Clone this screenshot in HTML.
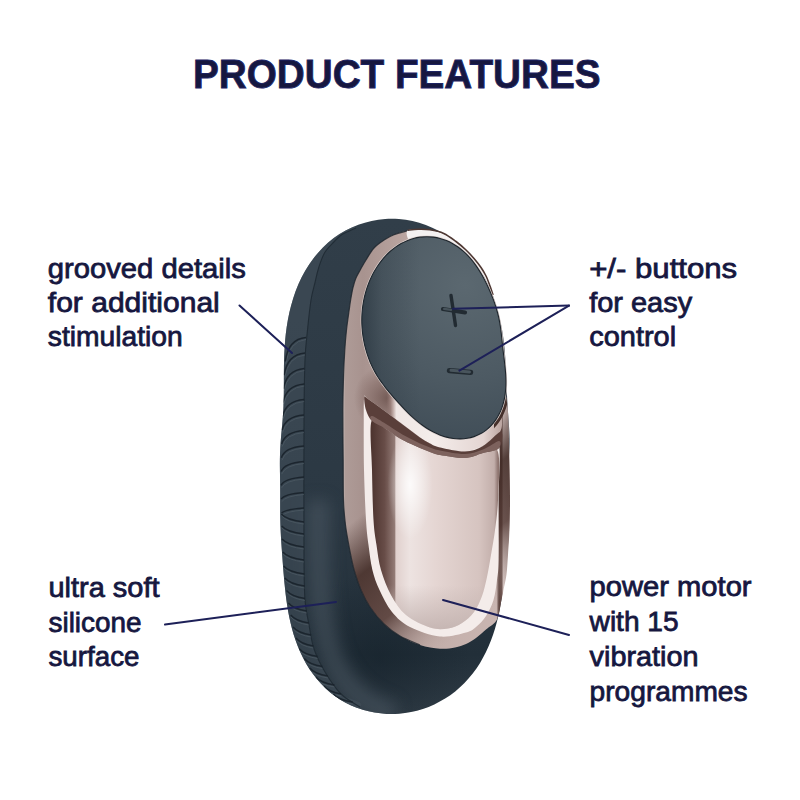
<!DOCTYPE html>
<html><head><meta charset="utf-8"><style>
html,body{margin:0;padding:0;background:#ffffff;width:800px;height:800px;overflow:hidden}
svg text{font-family:"Liberation Sans",sans-serif;fill:#16173f}
</style></head><body>
<svg width="800" height="800" viewBox="0 0 800 800" style="position:absolute;left:0;top:0">
<defs>
 <clipPath id="cBody"><path d="M280.09,481.17 C280.06,479.09 280.02,477.02 280.00,474.93 C279.97,472.85 279.93,470.76 279.91,468.66 C279.89,466.56 279.87,464.45 279.88,462.32 C279.89,460.19 279.91,458.05 279.97,455.89 C280.02,453.73 280.10,451.55 280.20,449.36 C280.31,447.17 280.44,444.96 280.60,442.73 C280.76,440.50 280.95,438.25 281.15,435.97 C281.34,433.68 281.57,431.38 281.79,429.03 C282.01,426.67 282.24,424.29 282.45,421.83 C282.66,419.37 282.87,416.88 283.04,414.28 C283.22,411.67 283.37,409.02 283.49,406.22 C283.62,403.43 283.70,400.55 283.77,397.52 C283.83,394.48 283.85,391.34 283.87,388.02 C283.89,384.70 283.87,381.24 283.88,377.61 C283.90,373.97 283.89,370.18 283.95,366.22 C284.02,362.27 284.09,358.13 284.28,353.87 C284.48,349.61 284.71,345.18 285.12,340.66 C285.53,336.14 286.02,331.47 286.73,326.78 C287.43,322.08 288.28,317.26 289.36,312.49 C290.44,307.72 291.71,302.87 293.23,298.14 C294.75,293.41 296.49,288.67 298.49,284.10 C300.49,279.54 302.73,275.03 305.21,270.75 C307.70,266.47 310.44,262.31 313.40,258.43 C316.36,254.55 319.57,250.86 322.96,247.46 C326.36,244.07 329.99,240.92 333.76,238.08 C337.54,235.25 341.52,232.69 345.61,230.46 C349.70,228.24 353.96,226.31 358.28,224.72 C362.60,223.13 367.06,221.85 371.54,220.91 C376.02,219.96 380.60,219.34 385.16,219.04 C389.72,218.74 394.34,218.77 398.90,219.12 C403.46,219.46 408.04,220.13 412.53,221.11 C417.01,222.09 421.48,223.39 425.82,224.99 C430.16,226.59 434.45,228.51 438.57,230.70 C442.69,232.90 446.71,235.41 450.55,238.18 C454.38,240.94 458.08,244.01 461.56,247.30 C465.05,250.58 468.36,254.15 471.44,257.90 C474.52,261.65 477.40,265.65 480.04,269.78 C482.68,273.90 485.10,278.25 487.28,282.65 C489.46,287.06 491.41,291.64 493.14,296.21 C494.87,300.79 496.36,305.48 497.66,310.10 C498.97,314.73 500.04,319.42 500.97,323.99 C501.90,328.56 502.62,333.12 503.25,337.54 C503.87,341.96 504.32,346.31 504.71,350.49 C505.11,354.68 505.37,358.75 505.61,362.65 C505.85,366.56 506.00,370.31 506.15,373.91 C506.31,377.51 506.42,380.94 506.55,384.24 C506.68,387.53 506.79,390.66 506.93,393.68 C507.07,396.70 507.21,399.57 507.37,402.36 C507.53,405.14 507.71,407.79 507.89,410.39 C508.06,412.98 508.26,415.48 508.43,417.93 C508.61,420.38 508.79,422.75 508.94,425.10 C509.09,427.44 509.23,429.73 509.33,432.00 C509.43,434.26 509.51,436.49 509.54,438.69 C509.57,440.90 509.57,443.07 509.53,445.22 C509.49,447.37 509.41,449.49 509.31,451.58 C509.21,453.68 509.07,455.74 508.92,457.78 C508.78,459.82 508.61,461.83 508.46,463.81 C508.31,465.80 508.15,467.76 508.02,469.70 C507.88,471.64 507.76,473.55 507.68,475.47 C507.59,477.38 507.53,479.27 507.51,481.17 C507.49,483.07 507.51,484.95 507.56,486.86 C507.60,488.77 507.69,490.68 507.79,492.61 C507.89,494.55 508.03,496.49 508.16,498.47 C508.29,500.45 508.45,502.45 508.59,504.48 C508.72,506.51 508.86,508.57 508.97,510.66 C509.07,512.75 509.16,514.86 509.21,517.01 C509.26,519.15 509.28,521.33 509.26,523.53 C509.23,525.73 509.17,527.96 509.07,530.22 C508.97,532.48 508.82,534.76 508.65,537.09 C508.48,539.42 508.27,541.77 508.04,544.18 C507.81,546.59 507.55,549.03 507.28,551.55 C507.02,554.07 506.73,556.64 506.43,559.30 C506.14,561.95 505.84,564.67 505.52,567.50 C505.20,570.33 504.88,573.25 504.52,576.27 C504.17,579.30 503.81,582.43 503.40,585.67 C502.98,588.90 502.55,592.26 502.03,595.70 C501.51,599.15 500.95,602.72 500.27,606.35 C499.60,609.99 498.85,613.74 497.96,617.51 C497.06,621.28 496.07,625.15 494.90,629.00 C493.74,632.85 492.44,636.76 490.95,640.61 C489.47,644.46 487.82,648.32 485.98,652.08 C484.14,655.83 482.12,659.56 479.91,663.13 C477.71,666.70 475.31,670.20 472.73,673.51 C470.16,676.83 467.40,680.02 464.48,683.00 C461.56,685.98 458.46,688.81 455.23,691.40 C452.00,694.00 448.61,696.41 445.11,698.58 C441.62,700.76 437.98,702.72 434.26,704.45 C430.55,706.18 426.72,707.68 422.84,708.95 C418.96,710.21 414.99,711.24 411.00,712.04 C407.01,712.83 402.95,713.38 398.90,713.69 C394.85,714.00 390.76,714.07 386.70,713.89 C382.65,713.70 378.58,713.28 374.57,712.60 C370.57,711.92 366.58,710.99 362.69,709.80 C358.79,708.62 354.94,707.18 351.22,705.49 C347.49,703.81 343.84,701.86 340.35,699.68 C336.85,697.51 333.46,695.07 330.25,692.43 C327.05,689.79 323.97,686.91 321.10,683.85 C318.22,680.80 315.51,677.51 313.00,674.10 C310.49,670.70 308.16,667.09 306.04,663.41 C303.91,659.74 301.99,655.90 300.24,652.04 C298.50,648.19 296.96,644.22 295.57,640.27 C294.19,636.33 293.00,632.33 291.93,628.39 C290.87,624.45 289.98,620.50 289.19,616.65 C288.39,612.80 287.74,608.98 287.16,605.27 C286.57,601.55 286.11,597.91 285.68,594.39 C285.25,590.86 284.90,587.43 284.57,584.11 C284.24,580.78 283.97,577.57 283.70,574.45 C283.44,571.33 283.20,568.32 282.97,565.39 C282.74,562.46 282.53,559.63 282.33,556.87 C282.12,554.11 281.93,551.43 281.74,548.81 C281.56,546.18 281.38,543.63 281.23,541.12 C281.07,538.61 280.92,536.16 280.80,533.75 C280.68,531.33 280.57,528.96 280.48,526.62 C280.40,524.28 280.33,521.98 280.28,519.71 C280.23,517.43 280.20,515.19 280.18,512.98 C280.16,510.76 280.16,508.57 280.16,506.41 C280.16,504.24 280.17,502.10 280.17,499.97 C280.17,497.84 280.18,495.74 280.18,493.64 C280.18,491.55 280.17,489.47 280.15,487.39 C280.14,485.31 280.12,483.24 280.09,481.17Z"/></clipPath>
 <clipPath id="cInterior"><path d="M407.00,231.00 C402.67,231.38 397.75,233.29 394.00,234.75 C390.25,236.21 387.83,237.54 384.50,239.75 C381.17,241.96 377.08,244.62 374.00,248.00 C370.92,251.38 368.25,256.42 366.00,260.00 C363.75,263.58 362.17,266.50 360.50,269.50 C358.83,272.50 357.25,275.00 356.00,278.00 C354.75,281.00 353.87,284.00 353.00,287.50 C352.13,291.00 351.43,295.33 350.80,299.00 C350.18,302.67 349.97,304.33 349.25,309.50 C348.53,314.67 347.24,323.25 346.50,330.00 C345.76,336.75 345.28,342.50 344.80,350.00 C344.32,357.50 343.92,365.00 343.60,375.00 C343.28,385.00 342.97,395.83 342.90,410.00 C342.83,424.17 343.10,445.00 343.20,460.00 C343.30,475.00 343.12,489.17 343.50,500.00 C343.88,510.83 344.46,516.67 345.50,525.00 C346.54,533.33 348.33,542.58 349.75,550.00 C351.17,557.42 352.12,562.83 354.00,569.50 C355.88,576.17 358.33,583.75 361.00,590.00 C363.67,596.25 366.17,601.33 370.00,607.00 C373.83,612.67 379.00,619.17 384.00,624.00 C389.00,628.83 394.00,632.50 400.00,636.00 C406.00,639.50 413.33,642.88 420.00,645.00 C426.67,647.12 434.17,648.33 440.00,648.75 C445.83,649.17 450.67,648.29 455.00,647.50 C459.33,646.71 462.50,645.58 466.00,644.00 C469.50,642.42 472.67,640.42 476.00,638.00 C479.33,635.58 482.50,632.58 486.00,629.50 C489.50,626.42 494.42,624.42 497.00,619.50 C499.58,614.58 500.42,604.92 501.50,600.00 C502.58,595.08 502.67,594.25 503.50,590.00 C504.33,585.75 505.75,580.33 506.50,574.50 C507.25,568.67 507.50,562.42 508.00,555.00 C508.50,547.58 509.17,539.17 509.50,530.00 C509.83,520.83 510.00,511.67 510.00,500.00 C510.00,488.33 509.80,474.25 509.50,460.00 C509.20,445.75 508.78,425.17 508.20,414.50 C507.62,403.83 506.87,402.08 506.00,396.00 C505.13,389.92 503.33,384.33 503.00,378.00 C502.67,371.67 504.08,364.00 504.00,358.00 C503.92,352.00 503.33,346.75 502.50,342.00 C501.67,337.25 500.25,334.83 499.00,329.50 C497.75,324.17 496.67,315.92 495.00,310.00 C493.33,304.08 490.67,298.50 489.00,294.00 C487.33,289.50 486.50,286.33 485.00,283.00 C483.50,279.67 482.17,277.33 480.00,274.00 C477.83,270.67 474.83,266.33 472.00,263.00 C469.17,259.67 467.17,257.50 463.00,254.00 C458.83,250.50 452.17,245.00 447.00,242.00 C441.83,239.00 436.50,237.58 432.00,236.00 C427.50,234.42 424.17,233.33 420.00,232.50 C415.83,231.67 411.33,230.62 407.00,231.00Z"/></clipPath>
 <filter id="fBlur" x="-50%" y="-50%" width="200%" height="200%"><feGaussianBlur stdDeviation="8"/></filter>
 <clipPath id="cRB"><rect x="494" y="362" width="20" height="80"/></clipPath>
 <clipPath id="cFace"><path d="M363.42,338.75 C363.15,337.22 362.91,335.67 362.71,334.11 C362.51,332.55 362.34,330.96 362.20,329.36 C362.06,327.76 361.96,326.15 361.89,324.51 C361.83,322.87 361.79,321.22 361.81,319.55 C361.82,317.88 361.87,316.18 361.96,314.48 C362.06,312.77 362.20,311.05 362.38,309.31 C362.57,307.57 362.80,305.81 363.08,304.04 C363.36,302.27 363.69,300.49 364.08,298.69 C364.46,296.90 364.90,295.09 365.40,293.27 C365.89,291.46 366.44,289.63 367.06,287.80 C367.67,285.97 368.34,284.13 369.08,282.29 C369.82,280.46 370.62,278.62 371.50,276.79 C372.38,274.97 373.32,273.14 374.34,271.34 C375.36,269.54 376.45,267.74 377.62,265.98 C378.79,264.23 380.04,262.48 381.37,260.80 C382.70,259.11 384.11,257.45 385.60,255.87 C387.09,254.28 388.67,252.73 390.32,251.28 C391.97,249.83 393.71,248.43 395.51,247.14 C397.31,245.86 399.20,244.65 401.14,243.57 C403.09,242.48 405.11,241.50 407.17,240.65 C409.23,239.80 411.36,239.07 413.51,238.48 C415.66,237.90 417.87,237.44 420.08,237.14 C422.29,236.84 424.53,236.68 426.76,236.68 C428.99,236.67 431.24,236.82 433.45,237.11 C435.66,237.40 437.87,237.85 440.03,238.42 C442.18,239.00 444.32,239.73 446.38,240.57 C448.44,241.41 450.46,242.40 452.40,243.47 C454.34,244.55 456.23,245.76 458.03,247.03 C459.83,248.31 461.55,249.69 463.20,251.12 C464.84,252.55 466.40,254.08 467.88,255.62 C469.37,257.17 470.76,258.78 472.09,260.40 C473.41,262.02 474.66,263.68 475.83,265.34 C477.01,266.99 478.11,268.67 479.16,270.34 C480.21,272.00 481.19,273.67 482.12,275.32 C483.05,276.97 483.92,278.62 484.76,280.24 C485.60,281.86 486.39,283.47 487.14,285.06 C487.90,286.64 488.61,288.21 489.30,289.77 C489.99,291.32 490.64,292.86 491.27,294.38 C491.89,295.91 492.49,297.41 493.06,298.92 C493.63,300.42 494.17,301.91 494.68,303.39 C495.20,304.88 495.68,306.36 496.14,307.83 C496.59,309.31 497.02,310.78 497.41,312.25 C497.81,313.72 498.18,315.19 498.51,316.66 C498.85,318.13 499.15,319.60 499.43,321.07 C499.71,322.53 499.96,324.00 500.19,325.47 C500.42,326.94 500.63,328.41 500.82,329.88 C501.01,331.35 501.18,332.82 501.35,334.29 C501.52,335.77 501.67,337.25 501.83,338.75 C501.99,340.24 502.14,341.74 502.30,343.26 C502.46,344.78 502.63,346.31 502.80,347.88 C502.98,349.44 503.16,351.02 503.36,352.65 C503.55,354.28 503.76,355.93 503.97,357.64 C504.17,359.35 504.39,361.09 504.60,362.90 C504.80,364.70 505.02,366.55 505.20,368.46 C505.38,370.37 505.56,372.34 505.68,374.36 C505.80,376.38 505.90,378.46 505.92,380.59 C505.95,382.71 505.93,384.89 505.81,387.09 C505.69,389.30 505.51,391.55 505.21,393.81 C504.90,396.06 504.52,398.35 503.99,400.60 C503.46,402.86 502.83,405.13 502.05,407.34 C501.27,409.54 500.36,411.74 499.31,413.84 C498.25,415.93 497.06,417.99 495.73,419.91 C494.41,421.84 492.93,423.69 491.34,425.38 C489.75,427.08 488.01,428.66 486.18,430.07 C484.35,431.49 482.39,432.76 480.35,433.85 C478.32,434.94 476.17,435.87 473.99,436.61 C471.80,437.35 469.53,437.91 467.24,438.29 C464.96,438.67 462.61,438.87 460.29,438.90 C457.96,438.93 455.61,438.78 453.29,438.48 C450.98,438.18 448.66,437.71 446.40,437.12 C444.15,436.53 441.92,435.77 439.76,434.94 C437.60,434.10 435.49,433.12 433.45,432.09 C431.42,431.05 429.45,429.90 427.55,428.72 C425.66,427.54 423.84,426.28 422.10,425.01 C420.35,423.73 418.68,422.40 417.08,421.08 C415.47,419.75 413.94,418.39 412.47,417.05 C411.00,415.71 409.59,414.36 408.24,413.03 C406.88,411.70 405.58,410.38 404.32,409.08 C403.06,407.77 401.85,406.49 400.67,405.22 C399.49,403.95 398.35,402.70 397.24,401.47 C396.13,400.23 395.05,399.02 393.99,397.81 C392.93,396.60 391.90,395.41 390.88,394.22 C389.87,393.03 388.88,391.85 387.92,390.67 C386.95,389.49 386.00,388.31 385.08,387.12 C384.16,385.93 383.25,384.74 382.38,383.54 C381.50,382.33 380.65,381.12 379.82,379.90 C378.99,378.67 378.19,377.44 377.42,376.19 C376.64,374.94 375.90,373.67 375.18,372.39 C374.46,371.11 373.77,369.81 373.11,368.50 C372.45,367.19 371.82,365.86 371.22,364.52 C370.62,363.18 370.04,361.83 369.50,360.45 C368.95,359.08 368.44,357.70 367.95,356.30 C367.46,354.90 367.00,353.48 366.57,352.05 C366.13,350.62 365.73,349.17 365.35,347.71 C364.97,346.25 364.62,344.77 364.30,343.28 C363.98,341.78 363.68,340.27 363.42,338.75Z"/></clipPath>
 <linearGradient id="gBody" gradientUnits="userSpaceOnUse" x1="0" y1="220" x2="0" y2="714">
  <stop offset="0" stop-color="#313e49"/>
  <stop offset="0.3" stop-color="#2e3b46"/>
  <stop offset="0.6" stop-color="#2b3843"/>
  <stop offset="0.88" stop-color="#222f39"/>
  <stop offset="1" stop-color="#303c46"/>
 </linearGradient>
 <radialGradient id="gBodyBot" gradientUnits="userSpaceOnUse" cx="380" cy="660" r="90">
  <stop offset="0" stop-color="#101c25" stop-opacity="0.45"/>
  <stop offset="1" stop-color="#101c25" stop-opacity="0"/>
 </radialGradient>
 <linearGradient id="gChrome" gradientUnits="userSpaceOnUse" x1="343" y1="0" x2="508" y2="0">
  <stop offset="0" stop-color="#c2b5b2"/>
  <stop offset="0.015" stop-color="#ae9b97"/>
  <stop offset="0.12" stop-color="#a8938f"/>
  <stop offset="0.5" stop-color="#c3aea9"/>
  <stop offset="0.93" stop-color="#c9b5b1"/>
  <stop offset="0.945" stop-color="#5e4540"/>
  <stop offset="0.962" stop-color="#6a514c"/>
  <stop offset="0.972" stop-color="#d9c9c6"/>
  <stop offset="1" stop-color="#c2b0ac"/>
 </linearGradient>
 <linearGradient id="gChromeV" gradientUnits="userSpaceOnUse" x1="343" y1="530" x2="440" y2="650">
  <stop offset="0" stop-color="#3e2823" stop-opacity="0"/>
  <stop offset="0.3" stop-color="#3e2823" stop-opacity="0.85"/>
  <stop offset="0.62" stop-color="#4e3530" stop-opacity="0.8"/>
  <stop offset="1" stop-color="#b5a29e" stop-opacity="0"/>
 </linearGradient>
 <linearGradient id="gInsert" gradientUnits="userSpaceOnUse" x1="372" y1="0" x2="498" y2="0">
  <stop offset="0" stop-color="#4e3530"/>
  <stop offset="0.1" stop-color="#684d48"/>
  <stop offset="0.18" stop-color="#937b76"/>
  <stop offset="0.19" stop-color="#e0d0cd"/>
  <stop offset="0.3" stop-color="#ede3e1"/>
  <stop offset="0.5" stop-color="#e5d6d3"/>
  <stop offset="0.85" stop-color="#d6c4c0"/>
  <stop offset="0.97" stop-color="#c2aeaa"/>
  <stop offset="1" stop-color="#8e7570"/>
 </linearGradient>
 <linearGradient id="gInsertV" gradientUnits="userSpaceOnUse" x1="0" y1="585" x2="0" y2="628">
  <stop offset="0" stop-color="#c4b4b1" stop-opacity="0"/>
  <stop offset="1" stop-color="#c4b4b1" stop-opacity="0.9"/>
 </linearGradient>
 <linearGradient id="gBrown" gradientUnits="userSpaceOnUse" x1="0" y1="415" x2="8" y2="430" spreadMethod="pad">
  <stop offset="0" stop-color="#4e342f"/>
  <stop offset="1" stop-color="#7e635e"/>
 </linearGradient>
 <linearGradient id="gUnder" gradientUnits="userSpaceOnUse" x1="362" y1="0" x2="505" y2="0">
  <stop offset="0.17" stop-color="#8c726d" stop-opacity="0"/>
  <stop offset="0.2" stop-color="#9a807b"/>
  <stop offset="0.22" stop-color="#c4b0ac"/>
  <stop offset="0.24" stop-color="#efe6e4"/>
  <stop offset="0.5" stop-color="#f4edeb"/>
  <stop offset="0.85" stop-color="#e4d5d2"/>
  <stop offset="1" stop-color="#b39c97"/>
 </linearGradient>
 <radialGradient id="gRefl" gradientUnits="userSpaceOnUse" cx="388" cy="398" r="34">
  <stop offset="0" stop-color="#5e443f" stop-opacity="0.75"/>
  <stop offset="0.6" stop-color="#6a4f4a" stop-opacity="0.35"/>
  <stop offset="1" stop-color="#6a4f4a" stop-opacity="0"/>
 </radialGradient>
 <radialGradient id="gHi" gradientUnits="userSpaceOnUse" cx="410" cy="485" r="45" gradientTransform="translate(410 485) scale(0.5 1.2) translate(-410 -485)">
  <stop offset="0" stop-color="#ffffff" stop-opacity="0.85"/>
  <stop offset="1" stop-color="#ffffff" stop-opacity="0"/>
 </radialGradient>
 <radialGradient id="gFace" gradientUnits="userSpaceOnUse" cx="465" cy="285" r="210">
  <stop offset="0" stop-color="#5b6870"/>
  <stop offset="0.45" stop-color="#4d5a63"/>
  <stop offset="0.8" stop-color="#3f4c56"/>
  <stop offset="1" stop-color="#34414b"/>
 </radialGradient>
 <linearGradient id="gFaceL" gradientUnits="userSpaceOnUse" x1="361" y1="0" x2="420" y2="0">
  <stop offset="0" stop-color="#1f2b35" stop-opacity="0.55"/>
  <stop offset="0.35" stop-color="#1f2b35" stop-opacity="0.2"/>
  <stop offset="1" stop-color="#1f2b35" stop-opacity="0"/>
 </linearGradient>
</defs>
<path d="M280.09,481.17 C280.06,479.09 280.02,477.02 280.00,474.93 C279.97,472.85 279.93,470.76 279.91,468.66 C279.89,466.56 279.87,464.45 279.88,462.32 C279.89,460.19 279.91,458.05 279.97,455.89 C280.02,453.73 280.10,451.55 280.20,449.36 C280.31,447.17 280.44,444.96 280.60,442.73 C280.76,440.50 280.95,438.25 281.15,435.97 C281.34,433.68 281.57,431.38 281.79,429.03 C282.01,426.67 282.24,424.29 282.45,421.83 C282.66,419.37 282.87,416.88 283.04,414.28 C283.22,411.67 283.37,409.02 283.49,406.22 C283.62,403.43 283.70,400.55 283.77,397.52 C283.83,394.48 283.85,391.34 283.87,388.02 C283.89,384.70 283.87,381.24 283.88,377.61 C283.90,373.97 283.89,370.18 283.95,366.22 C284.02,362.27 284.09,358.13 284.28,353.87 C284.48,349.61 284.71,345.18 285.12,340.66 C285.53,336.14 286.02,331.47 286.73,326.78 C287.43,322.08 288.28,317.26 289.36,312.49 C290.44,307.72 291.71,302.87 293.23,298.14 C294.75,293.41 296.49,288.67 298.49,284.10 C300.49,279.54 302.73,275.03 305.21,270.75 C307.70,266.47 310.44,262.31 313.40,258.43 C316.36,254.55 319.57,250.86 322.96,247.46 C326.36,244.07 329.99,240.92 333.76,238.08 C337.54,235.25 341.52,232.69 345.61,230.46 C349.70,228.24 353.96,226.31 358.28,224.72 C362.60,223.13 367.06,221.85 371.54,220.91 C376.02,219.96 380.60,219.34 385.16,219.04 C389.72,218.74 394.34,218.77 398.90,219.12 C403.46,219.46 408.04,220.13 412.53,221.11 C417.01,222.09 421.48,223.39 425.82,224.99 C430.16,226.59 434.45,228.51 438.57,230.70 C442.69,232.90 446.71,235.41 450.55,238.18 C454.38,240.94 458.08,244.01 461.56,247.30 C465.05,250.58 468.36,254.15 471.44,257.90 C474.52,261.65 477.40,265.65 480.04,269.78 C482.68,273.90 485.10,278.25 487.28,282.65 C489.46,287.06 491.41,291.64 493.14,296.21 C494.87,300.79 496.36,305.48 497.66,310.10 C498.97,314.73 500.04,319.42 500.97,323.99 C501.90,328.56 502.62,333.12 503.25,337.54 C503.87,341.96 504.32,346.31 504.71,350.49 C505.11,354.68 505.37,358.75 505.61,362.65 C505.85,366.56 506.00,370.31 506.15,373.91 C506.31,377.51 506.42,380.94 506.55,384.24 C506.68,387.53 506.79,390.66 506.93,393.68 C507.07,396.70 507.21,399.57 507.37,402.36 C507.53,405.14 507.71,407.79 507.89,410.39 C508.06,412.98 508.26,415.48 508.43,417.93 C508.61,420.38 508.79,422.75 508.94,425.10 C509.09,427.44 509.23,429.73 509.33,432.00 C509.43,434.26 509.51,436.49 509.54,438.69 C509.57,440.90 509.57,443.07 509.53,445.22 C509.49,447.37 509.41,449.49 509.31,451.58 C509.21,453.68 509.07,455.74 508.92,457.78 C508.78,459.82 508.61,461.83 508.46,463.81 C508.31,465.80 508.15,467.76 508.02,469.70 C507.88,471.64 507.76,473.55 507.68,475.47 C507.59,477.38 507.53,479.27 507.51,481.17 C507.49,483.07 507.51,484.95 507.56,486.86 C507.60,488.77 507.69,490.68 507.79,492.61 C507.89,494.55 508.03,496.49 508.16,498.47 C508.29,500.45 508.45,502.45 508.59,504.48 C508.72,506.51 508.86,508.57 508.97,510.66 C509.07,512.75 509.16,514.86 509.21,517.01 C509.26,519.15 509.28,521.33 509.26,523.53 C509.23,525.73 509.17,527.96 509.07,530.22 C508.97,532.48 508.82,534.76 508.65,537.09 C508.48,539.42 508.27,541.77 508.04,544.18 C507.81,546.59 507.55,549.03 507.28,551.55 C507.02,554.07 506.73,556.64 506.43,559.30 C506.14,561.95 505.84,564.67 505.52,567.50 C505.20,570.33 504.88,573.25 504.52,576.27 C504.17,579.30 503.81,582.43 503.40,585.67 C502.98,588.90 502.55,592.26 502.03,595.70 C501.51,599.15 500.95,602.72 500.27,606.35 C499.60,609.99 498.85,613.74 497.96,617.51 C497.06,621.28 496.07,625.15 494.90,629.00 C493.74,632.85 492.44,636.76 490.95,640.61 C489.47,644.46 487.82,648.32 485.98,652.08 C484.14,655.83 482.12,659.56 479.91,663.13 C477.71,666.70 475.31,670.20 472.73,673.51 C470.16,676.83 467.40,680.02 464.48,683.00 C461.56,685.98 458.46,688.81 455.23,691.40 C452.00,694.00 448.61,696.41 445.11,698.58 C441.62,700.76 437.98,702.72 434.26,704.45 C430.55,706.18 426.72,707.68 422.84,708.95 C418.96,710.21 414.99,711.24 411.00,712.04 C407.01,712.83 402.95,713.38 398.90,713.69 C394.85,714.00 390.76,714.07 386.70,713.89 C382.65,713.70 378.58,713.28 374.57,712.60 C370.57,711.92 366.58,710.99 362.69,709.80 C358.79,708.62 354.94,707.18 351.22,705.49 C347.49,703.81 343.84,701.86 340.35,699.68 C336.85,697.51 333.46,695.07 330.25,692.43 C327.05,689.79 323.97,686.91 321.10,683.85 C318.22,680.80 315.51,677.51 313.00,674.10 C310.49,670.70 308.16,667.09 306.04,663.41 C303.91,659.74 301.99,655.90 300.24,652.04 C298.50,648.19 296.96,644.22 295.57,640.27 C294.19,636.33 293.00,632.33 291.93,628.39 C290.87,624.45 289.98,620.50 289.19,616.65 C288.39,612.80 287.74,608.98 287.16,605.27 C286.57,601.55 286.11,597.91 285.68,594.39 C285.25,590.86 284.90,587.43 284.57,584.11 C284.24,580.78 283.97,577.57 283.70,574.45 C283.44,571.33 283.20,568.32 282.97,565.39 C282.74,562.46 282.53,559.63 282.33,556.87 C282.12,554.11 281.93,551.43 281.74,548.81 C281.56,546.18 281.38,543.63 281.23,541.12 C281.07,538.61 280.92,536.16 280.80,533.75 C280.68,531.33 280.57,528.96 280.48,526.62 C280.40,524.28 280.33,521.98 280.28,519.71 C280.23,517.43 280.20,515.19 280.18,512.98 C280.16,510.76 280.16,508.57 280.16,506.41 C280.16,504.24 280.17,502.10 280.17,499.97 C280.17,497.84 280.18,495.74 280.18,493.64 C280.18,491.55 280.17,489.47 280.15,487.39 C280.14,485.31 280.12,483.24 280.09,481.17Z" fill="url(#gBody)"/>
<path d="M280.09,481.17 C280.06,479.09 280.02,477.02 280.00,474.93 C279.97,472.85 279.93,470.76 279.91,468.66 C279.89,466.56 279.87,464.45 279.88,462.32 C279.89,460.19 279.91,458.05 279.97,455.89 C280.02,453.73 280.10,451.55 280.20,449.36 C280.31,447.17 280.44,444.96 280.60,442.73 C280.76,440.50 280.95,438.25 281.15,435.97 C281.34,433.68 281.57,431.38 281.79,429.03 C282.01,426.67 282.24,424.29 282.45,421.83 C282.66,419.37 282.87,416.88 283.04,414.28 C283.22,411.67 283.37,409.02 283.49,406.22 C283.62,403.43 283.70,400.55 283.77,397.52 C283.83,394.48 283.85,391.34 283.87,388.02 C283.89,384.70 283.87,381.24 283.88,377.61 C283.90,373.97 283.89,370.18 283.95,366.22 C284.02,362.27 284.09,358.13 284.28,353.87 C284.48,349.61 284.71,345.18 285.12,340.66 C285.53,336.14 286.02,331.47 286.73,326.78 C287.43,322.08 288.28,317.26 289.36,312.49 C290.44,307.72 291.71,302.87 293.23,298.14 C294.75,293.41 296.49,288.67 298.49,284.10 C300.49,279.54 302.73,275.03 305.21,270.75 C307.70,266.47 310.44,262.31 313.40,258.43 C316.36,254.55 319.57,250.86 322.96,247.46 C326.36,244.07 329.99,240.92 333.76,238.08 C337.54,235.25 341.52,232.69 345.61,230.46 C349.70,228.24 353.96,226.31 358.28,224.72 C362.60,223.13 367.06,221.85 371.54,220.91 C376.02,219.96 380.60,219.34 385.16,219.04 C389.72,218.74 394.34,218.77 398.90,219.12 C403.46,219.46 408.04,220.13 412.53,221.11 C417.01,222.09 421.48,223.39 425.82,224.99 C430.16,226.59 434.45,228.51 438.57,230.70 C442.69,232.90 446.71,235.41 450.55,238.18 C454.38,240.94 458.08,244.01 461.56,247.30 C465.05,250.58 468.36,254.15 471.44,257.90 C474.52,261.65 477.40,265.65 480.04,269.78 C482.68,273.90 485.10,278.25 487.28,282.65 C489.46,287.06 491.41,291.64 493.14,296.21 C494.87,300.79 496.36,305.48 497.66,310.10 C498.97,314.73 500.04,319.42 500.97,323.99 C501.90,328.56 502.62,333.12 503.25,337.54 C503.87,341.96 504.32,346.31 504.71,350.49 C505.11,354.68 505.37,358.75 505.61,362.65 C505.85,366.56 506.00,370.31 506.15,373.91 C506.31,377.51 506.42,380.94 506.55,384.24 C506.68,387.53 506.79,390.66 506.93,393.68 C507.07,396.70 507.21,399.57 507.37,402.36 C507.53,405.14 507.71,407.79 507.89,410.39 C508.06,412.98 508.26,415.48 508.43,417.93 C508.61,420.38 508.79,422.75 508.94,425.10 C509.09,427.44 509.23,429.73 509.33,432.00 C509.43,434.26 509.51,436.49 509.54,438.69 C509.57,440.90 509.57,443.07 509.53,445.22 C509.49,447.37 509.41,449.49 509.31,451.58 C509.21,453.68 509.07,455.74 508.92,457.78 C508.78,459.82 508.61,461.83 508.46,463.81 C508.31,465.80 508.15,467.76 508.02,469.70 C507.88,471.64 507.76,473.55 507.68,475.47 C507.59,477.38 507.53,479.27 507.51,481.17 C507.49,483.07 507.51,484.95 507.56,486.86 C507.60,488.77 507.69,490.68 507.79,492.61 C507.89,494.55 508.03,496.49 508.16,498.47 C508.29,500.45 508.45,502.45 508.59,504.48 C508.72,506.51 508.86,508.57 508.97,510.66 C509.07,512.75 509.16,514.86 509.21,517.01 C509.26,519.15 509.28,521.33 509.26,523.53 C509.23,525.73 509.17,527.96 509.07,530.22 C508.97,532.48 508.82,534.76 508.65,537.09 C508.48,539.42 508.27,541.77 508.04,544.18 C507.81,546.59 507.55,549.03 507.28,551.55 C507.02,554.07 506.73,556.64 506.43,559.30 C506.14,561.95 505.84,564.67 505.52,567.50 C505.20,570.33 504.88,573.25 504.52,576.27 C504.17,579.30 503.81,582.43 503.40,585.67 C502.98,588.90 502.55,592.26 502.03,595.70 C501.51,599.15 500.95,602.72 500.27,606.35 C499.60,609.99 498.85,613.74 497.96,617.51 C497.06,621.28 496.07,625.15 494.90,629.00 C493.74,632.85 492.44,636.76 490.95,640.61 C489.47,644.46 487.82,648.32 485.98,652.08 C484.14,655.83 482.12,659.56 479.91,663.13 C477.71,666.70 475.31,670.20 472.73,673.51 C470.16,676.83 467.40,680.02 464.48,683.00 C461.56,685.98 458.46,688.81 455.23,691.40 C452.00,694.00 448.61,696.41 445.11,698.58 C441.62,700.76 437.98,702.72 434.26,704.45 C430.55,706.18 426.72,707.68 422.84,708.95 C418.96,710.21 414.99,711.24 411.00,712.04 C407.01,712.83 402.95,713.38 398.90,713.69 C394.85,714.00 390.76,714.07 386.70,713.89 C382.65,713.70 378.58,713.28 374.57,712.60 C370.57,711.92 366.58,710.99 362.69,709.80 C358.79,708.62 354.94,707.18 351.22,705.49 C347.49,703.81 343.84,701.86 340.35,699.68 C336.85,697.51 333.46,695.07 330.25,692.43 C327.05,689.79 323.97,686.91 321.10,683.85 C318.22,680.80 315.51,677.51 313.00,674.10 C310.49,670.70 308.16,667.09 306.04,663.41 C303.91,659.74 301.99,655.90 300.24,652.04 C298.50,648.19 296.96,644.22 295.57,640.27 C294.19,636.33 293.00,632.33 291.93,628.39 C290.87,624.45 289.98,620.50 289.19,616.65 C288.39,612.80 287.74,608.98 287.16,605.27 C286.57,601.55 286.11,597.91 285.68,594.39 C285.25,590.86 284.90,587.43 284.57,584.11 C284.24,580.78 283.97,577.57 283.70,574.45 C283.44,571.33 283.20,568.32 282.97,565.39 C282.74,562.46 282.53,559.63 282.33,556.87 C282.12,554.11 281.93,551.43 281.74,548.81 C281.56,546.18 281.38,543.63 281.23,541.12 C281.07,538.61 280.92,536.16 280.80,533.75 C280.68,531.33 280.57,528.96 280.48,526.62 C280.40,524.28 280.33,521.98 280.28,519.71 C280.23,517.43 280.20,515.19 280.18,512.98 C280.16,510.76 280.16,508.57 280.16,506.41 C280.16,504.24 280.17,502.10 280.17,499.97 C280.17,497.84 280.18,495.74 280.18,493.64 C280.18,491.55 280.17,489.47 280.15,487.39 C280.14,485.31 280.12,483.24 280.09,481.17Z" fill="url(#gBodyBot)"/>
<g clip-path="url(#cBody)">
 <path d="M318,500 C318,580 320,630 333,660 C345,688 365,706 395,714" fill="none" stroke="#4f5c66" stroke-width="22" opacity="0.55" filter="url(#fBlur)"/>
 <path d="M356.00,228.00 C358.00,229.58 345.71,232.17 342.00,234.50 C338.29,236.83 336.62,239.00 333.75,242.00 C330.88,245.00 327.25,248.25 324.75,252.50 C322.25,256.75 320.38,262.50 318.75,267.50 C317.12,272.50 316.29,277.08 315.00,282.50 C313.71,287.92 312.25,292.08 311.00,300.00 C309.75,307.92 308.50,320.00 307.50,330.00 C306.50,340.00 305.58,345.00 305.00,360.00 C304.42,375.00 304.17,386.67 304.00,420.00 C303.83,453.33 303.83,530.00 304.00,560.00 C304.17,590.00 304.17,589.17 305.00,600.00 C305.83,610.83 307.50,616.83 309.00,625.00 C310.50,633.17 311.33,641.17 314.00,649.00 C316.67,656.83 320.50,664.50 325.00,672.00 C329.50,679.50 335.17,688.17 341.00,694.00 C346.83,699.83 366.83,701.00 360.00,707.00 C353.17,713.00 315.00,731.17 300.00,730.00 C285.00,728.83 275.00,771.67 270.00,700.00 C265.00,628.33 260.00,379.17 270.00,300.00 C280.00,220.83 315.67,237.00 330.00,225.00 C344.33,213.00 354.00,226.42 356.00,228.00Z" fill="#44515b" opacity="0.55"/>
 <path d="M356.00,228.00 C353.67,229.08 345.71,232.17 342.00,234.50 C338.29,236.83 336.62,239.00 333.75,242.00 C330.88,245.00 327.25,248.25 324.75,252.50 C322.25,256.75 320.38,262.50 318.75,267.50 C317.12,272.50 316.29,277.08 315.00,282.50 C313.71,287.92 312.25,292.08 311.00,300.00 C309.75,307.92 308.50,320.00 307.50,330.00 C306.50,340.00 305.58,345.00 305.00,360.00 C304.42,375.00 304.17,386.67 304.00,420.00 C303.83,453.33 303.83,530.00 304.00,560.00 C304.17,590.00 304.17,589.17 305.00,600.00 C305.83,610.83 307.50,616.83 309.00,625.00 C310.50,633.17 311.33,641.17 314.00,649.00 C316.67,656.83 320.50,664.50 325.00,672.00 C329.50,679.50 335.17,688.17 341.00,694.00 C346.83,699.83 356.83,704.83 360.00,707.00" fill="none" stroke="#1f2a33" stroke-width="1.1" opacity="0.9"/>
 <path d="M306.0,339.5 Q289.3,341.0 285.8,363.8 M305.0,355.0 Q288.2,356.5 284.7,377.6 M304.4,370.5 Q287.5,372.0 284.0,391.3 M304.3,386.0 Q287.0,387.5 283.5,405.1 M304.2,401.5 Q286.6,403.0 283.1,418.9 M304.0,417.0 Q286.1,418.5 282.6,432.7 M304.0,432.5 Q285.7,434.0 282.2,446.5 M304.0,448.0 Q285.4,449.5 281.9,460.3 M304.0,463.5 Q285.2,465.0 281.7,474.1 M304.0,479.0 Q285.1,480.5 281.6,487.9 M304.0,494.5 Q285.2,496.0 281.7,501.7 M304.0,510.0 Q285.6,511.5 282.1,515.5 M304.0,524.0 Q286.4,522.0 281.7,516.0 M304.0,536.0 Q286.7,534.0 282.0,528.0 M304.0,549.0 Q287.0,547.0 282.3,541.0 M304.0,562.0 Q287.8,560.0 283.1,554.0 M304.4,576.0 Q288.6,574.0 283.9,568.0 M304.6,588.0 Q289.8,586.0 285.1,580.0 M305.0,600.5 Q291.5,598.5 286.8,592.5 M306.8,613.0 Q293.4,611.0 288.7,605.0 M308.7,625.0 Q295.7,623.0 291.0,617.0 M311.1,637.0 Q298.0,635.0 293.3,629.0 M313.4,648.0 Q300.9,646.0 296.2,640.0 M317.6,658.5 Q304.0,656.5 299.3,650.5 M322.4,668.5 Q309.3,666.5 304.6,660.5 M327.9,678.0 Q314.8,676.0 310.1,670.0 M334.5,687.0 Q320.9,685.0 316.2,679.0 M341.0,696.0 Q329.0,694.0 324.3,688.0 M352.7,704.0 Q338.3,702.0 333.6,696.0" fill="none" stroke="#56636c" stroke-width="0.9" opacity="0.6"/>
 <path d="M306.0,337.5 Q288.3,339.0 285.3,361.3 M305.0,353.0 Q287.2,354.5 284.2,375.1 M304.4,368.5 Q286.5,370.0 283.5,388.8 M304.3,384.0 Q286.0,385.5 283.0,402.6 M304.2,399.5 Q285.6,401.0 282.6,416.4 M304.0,415.0 Q285.1,416.5 282.1,430.2 M304.0,430.5 Q284.7,432.0 281.7,444.0 M304.0,446.0 Q284.4,447.5 281.4,457.8 M304.0,461.5 Q284.2,463.0 281.2,471.6 M304.0,477.0 Q284.1,478.5 281.1,485.4 M304.0,492.5 Q284.2,494.0 281.2,499.2 M304.0,508.0 Q284.6,509.5 281.6,513.0 M304.0,522.0 Q286.4,520.0 281.4,514.0 M304.0,534.0 Q286.7,532.0 281.7,526.0 M304.0,547.0 Q287.0,545.0 282.0,539.0 M304.0,560.0 Q287.8,558.0 282.8,552.0 M304.4,574.0 Q288.6,572.0 283.6,566.0 M304.6,586.0 Q289.8,584.0 284.8,578.0 M305.0,598.5 Q291.5,596.5 286.5,590.5 M306.8,611.0 Q293.4,609.0 288.4,603.0 M308.7,623.0 Q295.7,621.0 290.7,615.0 M311.1,635.0 Q298.0,633.0 293.0,627.0 M313.4,646.0 Q300.9,644.0 295.9,638.0 M317.6,656.5 Q304.0,654.5 299.0,648.5 M322.4,666.5 Q309.3,664.5 304.3,658.5 M327.9,676.0 Q314.8,674.0 309.8,668.0 M334.5,685.0 Q320.9,683.0 315.9,677.0 M341.0,694.0 Q329.0,692.0 324.0,686.0 M352.7,702.0 Q338.3,700.0 333.3,694.0" fill="none" stroke="#1a242c" stroke-width="1.4" opacity="0.95"/>
</g>
<path d="M407.00,231.00 C402.67,231.38 397.75,233.29 394.00,234.75 C390.25,236.21 387.83,237.54 384.50,239.75 C381.17,241.96 377.08,244.62 374.00,248.00 C370.92,251.38 368.25,256.42 366.00,260.00 C363.75,263.58 362.17,266.50 360.50,269.50 C358.83,272.50 357.25,275.00 356.00,278.00 C354.75,281.00 353.87,284.00 353.00,287.50 C352.13,291.00 351.43,295.33 350.80,299.00 C350.18,302.67 349.97,304.33 349.25,309.50 C348.53,314.67 347.24,323.25 346.50,330.00 C345.76,336.75 345.28,342.50 344.80,350.00 C344.32,357.50 343.92,365.00 343.60,375.00 C343.28,385.00 342.97,395.83 342.90,410.00 C342.83,424.17 343.10,445.00 343.20,460.00 C343.30,475.00 343.12,489.17 343.50,500.00 C343.88,510.83 344.46,516.67 345.50,525.00 C346.54,533.33 348.33,542.58 349.75,550.00 C351.17,557.42 352.12,562.83 354.00,569.50 C355.88,576.17 358.33,583.75 361.00,590.00 C363.67,596.25 366.17,601.33 370.00,607.00 C373.83,612.67 379.00,619.17 384.00,624.00 C389.00,628.83 394.00,632.50 400.00,636.00 C406.00,639.50 413.33,642.88 420.00,645.00 C426.67,647.12 434.17,648.33 440.00,648.75 C445.83,649.17 450.67,648.29 455.00,647.50 C459.33,646.71 462.50,645.58 466.00,644.00 C469.50,642.42 472.67,640.42 476.00,638.00 C479.33,635.58 482.50,632.58 486.00,629.50 C489.50,626.42 494.42,624.42 497.00,619.50 C499.58,614.58 500.42,604.92 501.50,600.00 C502.58,595.08 502.67,594.25 503.50,590.00 C504.33,585.75 505.75,580.33 506.50,574.50 C507.25,568.67 507.50,562.42 508.00,555.00 C508.50,547.58 509.17,539.17 509.50,530.00 C509.83,520.83 510.00,511.67 510.00,500.00 C510.00,488.33 509.80,474.25 509.50,460.00 C509.20,445.75 508.78,425.17 508.20,414.50 C507.62,403.83 506.87,402.08 506.00,396.00 C505.13,389.92 503.33,384.33 503.00,378.00 C502.67,371.67 504.08,364.00 504.00,358.00 C503.92,352.00 503.33,346.75 502.50,342.00 C501.67,337.25 500.25,334.83 499.00,329.50 C497.75,324.17 496.67,315.92 495.00,310.00 C493.33,304.08 490.67,298.50 489.00,294.00 C487.33,289.50 486.50,286.33 485.00,283.00 C483.50,279.67 482.17,277.33 480.00,274.00 C477.83,270.67 474.83,266.33 472.00,263.00 C469.17,259.67 467.17,257.50 463.00,254.00 C458.83,250.50 452.17,245.00 447.00,242.00 C441.83,239.00 436.50,237.58 432.00,236.00 C427.50,234.42 424.17,233.33 420.00,232.50 C415.83,231.67 411.33,230.62 407.00,231.00Z" fill="url(#gChrome)"/>
<g clip-path="url(#cInterior)">
 <path d="M407.00,231.00 C402.67,231.38 397.75,233.29 394.00,234.75 C390.25,236.21 387.83,237.54 384.50,239.75 C381.17,241.96 377.08,244.62 374.00,248.00 C370.92,251.38 368.25,256.42 366.00,260.00 C363.75,263.58 362.17,266.50 360.50,269.50 C358.83,272.50 357.25,275.00 356.00,278.00 C354.75,281.00 353.87,284.00 353.00,287.50 C352.13,291.00 351.43,295.33 350.80,299.00 C350.18,302.67 349.97,304.33 349.25,309.50 C348.53,314.67 347.24,323.25 346.50,330.00 C345.76,336.75 345.28,342.50 344.80,350.00 C344.32,357.50 343.92,365.00 343.60,375.00 C343.28,385.00 342.97,395.83 342.90,410.00 C342.83,424.17 343.10,445.00 343.20,460.00 C343.30,475.00 343.12,489.17 343.50,500.00 C343.88,510.83 344.46,516.67 345.50,525.00 C346.54,533.33 348.33,542.58 349.75,550.00 C351.17,557.42 352.12,562.83 354.00,569.50 C355.88,576.17 358.33,583.75 361.00,590.00 C363.67,596.25 366.17,601.33 370.00,607.00 C373.83,612.67 379.00,619.17 384.00,624.00 C389.00,628.83 394.00,632.50 400.00,636.00 C406.00,639.50 413.33,642.88 420.00,645.00 C426.67,647.12 434.17,648.33 440.00,648.75 C445.83,649.17 450.67,648.29 455.00,647.50 C459.33,646.71 462.50,645.58 466.00,644.00 C469.50,642.42 472.67,640.42 476.00,638.00 C479.33,635.58 482.50,632.58 486.00,629.50 C489.50,626.42 494.42,624.42 497.00,619.50 C499.58,614.58 500.42,604.92 501.50,600.00 C502.58,595.08 502.67,594.25 503.50,590.00 C504.33,585.75 505.75,580.33 506.50,574.50 C507.25,568.67 507.50,562.42 508.00,555.00 C508.50,547.58 509.17,539.17 509.50,530.00 C509.83,520.83 510.00,511.67 510.00,500.00 C510.00,488.33 509.80,474.25 509.50,460.00 C509.20,445.75 508.78,425.17 508.20,414.50 C507.62,403.83 506.87,402.08 506.00,396.00 C505.13,389.92 503.33,384.33 503.00,378.00 C502.67,371.67 504.08,364.00 504.00,358.00 C503.92,352.00 503.33,346.75 502.50,342.00 C501.67,337.25 500.25,334.83 499.00,329.50 C497.75,324.17 496.67,315.92 495.00,310.00 C493.33,304.08 490.67,298.50 489.00,294.00 C487.33,289.50 486.50,286.33 485.00,283.00 C483.50,279.67 482.17,277.33 480.00,274.00 C477.83,270.67 474.83,266.33 472.00,263.00 C469.17,259.67 467.17,257.50 463.00,254.00 C458.83,250.50 452.17,245.00 447.00,242.00 C441.83,239.00 436.50,237.58 432.00,236.00 C427.50,234.42 424.17,233.33 420.00,232.50 C415.83,231.67 411.33,230.62 407.00,231.00Z" fill="url(#gChromeV)"/>
 <rect x="340" y="350" width="80" height="90" fill="url(#gRefl)"/>
</g>
<path d="M407.00,231.00 C404.83,231.62 397.75,233.29 394.00,234.75 C390.25,236.21 387.83,237.54 384.50,239.75 C381.17,241.96 377.08,244.62 374.00,248.00 C370.92,251.38 368.25,256.42 366.00,260.00 C363.75,263.58 362.17,266.50 360.50,269.50 C358.83,272.50 357.25,275.00 356.00,278.00 C354.75,281.00 353.87,284.00 353.00,287.50 C352.13,291.00 351.43,295.33 350.80,299.00 C350.18,302.67 349.97,304.33 349.25,309.50 C348.53,314.67 347.24,323.25 346.50,330.00 C345.76,336.75 345.28,342.50 344.80,350.00 C344.32,357.50 343.92,365.00 343.60,375.00 C343.28,385.00 342.97,395.83 342.90,410.00 C342.83,424.17 343.10,445.00 343.20,460.00 C343.30,475.00 343.12,489.17 343.50,500.00 C343.88,510.83 344.46,516.67 345.50,525.00 C346.54,533.33 348.33,542.58 349.75,550.00 C351.17,557.42 352.12,562.83 354.00,569.50 C355.88,576.17 358.33,583.75 361.00,590.00 C363.67,596.25 366.17,601.33 370.00,607.00 C373.83,612.67 379.00,619.17 384.00,624.00 C389.00,628.83 394.00,632.50 400.00,636.00 C406.00,639.50 416.67,643.50 420.00,645.00" fill="none" stroke="#1b232a" stroke-width="1.2" opacity="0.8"/>
<path d="M407.50,230.60 C409.08,228.85 414.25,229.60 418.00,229.50 C421.75,229.40 425.71,229.29 430.00,230.00 C434.29,230.71 439.42,231.75 443.75,233.75 C448.08,235.75 451.83,238.88 456.00,242.00 C460.17,245.12 465.25,249.17 468.75,252.50 C472.25,255.83 474.46,258.58 477.00,262.00 C479.54,265.42 485.17,268.33 484.00,273.00 C482.83,277.67 480.67,292.17 470.00,290.00 C459.33,287.83 430.25,268.33 420.00,260.00 C409.75,251.67 410.58,244.90 408.50,240.00 C406.42,235.10 405.92,232.35 407.50,230.60Z" fill="#f4f1f1"/>
<path d="M407.50,230.20 C409.25,230.05 414.25,229.37 418.00,229.30 C421.75,229.23 425.71,229.12 430.00,229.80 C434.29,230.48 439.42,231.45 443.75,233.40 C448.08,235.35 452.29,238.73 456.00,241.50 C459.71,244.27 463.00,247.17 466.00,250.00 C469.00,252.83 471.50,255.58 474.00,258.50 C476.50,261.42 479.00,264.58 481.00,267.50 C483.00,270.42 484.50,272.92 486.00,276.00 C487.50,279.08 488.83,282.83 490.00,286.00 C491.17,289.17 492.50,293.50 493.00,295.00" fill="none" stroke="#4e3833" stroke-width="1.6"/>
<path d="M386.00,412.50 C386.67,416.67 387.67,413.33 390.00,415.00 C392.33,416.67 396.67,420.00 400.00,422.50 C403.33,425.00 406.67,427.50 410.00,430.00 C413.33,432.50 416.67,435.25 420.00,437.50 C423.33,439.75 426.67,441.83 430.00,443.50 C433.33,445.17 434.17,446.17 440.00,447.50 C445.83,448.83 457.83,451.75 465.00,451.50 C472.17,451.25 477.17,449.25 483.00,446.00 C488.83,442.75 496.83,437.17 500.00,432.00 C503.17,426.83 501.67,422.00 502.00,415.00 C502.33,408.00 509.00,395.83 502.00,390.00 C495.00,384.17 477.00,383.33 460.00,380.00 C443.00,376.67 412.33,368.33 400.00,370.00 C387.67,371.67 388.33,382.92 386.00,390.00 C383.67,397.08 385.33,408.33 386.00,412.50Z" fill="url(#gUnder)"/>
<path d="M364.20,397.20 C363.66,400.83 363.78,407.87 363.75,420.00 C363.72,432.13 363.62,453.33 364.00,470.00 C364.38,486.67 365.25,507.50 366.00,520.00 C366.75,532.50 367.43,536.67 368.50,545.00 C369.57,553.33 370.57,562.50 372.40,570.00 C374.23,577.50 376.23,583.00 379.50,590.00 C382.77,597.00 386.92,605.83 392.00,612.00 C397.08,618.17 402.00,622.92 410.00,627.00 C418.00,631.08 430.67,635.58 440.00,636.50 C449.33,637.42 460.00,634.08 466.00,632.50 C472.00,630.92 472.67,629.75 476.00,627.00 C479.33,624.25 483.08,620.50 486.00,616.00 C488.92,611.50 491.67,606.00 493.50,600.00 C495.33,594.00 496.15,586.67 497.00,580.00 C497.85,573.33 498.33,573.33 498.60,560.00 C498.87,546.67 498.60,519.83 498.60,500.00 C498.60,480.17 501.20,450.00 498.60,441.00 C496.00,432.00 488.60,444.25 483.00,446.00 C477.40,447.75 472.17,451.25 465.00,451.50 C457.83,451.75 445.83,448.83 440.00,447.50 C434.17,446.17 433.33,445.17 430.00,443.50 C426.67,441.83 423.33,439.75 420.00,437.50 C416.67,435.25 413.33,432.50 410.00,430.00 C406.67,427.50 403.33,425.00 400.00,422.50 C396.67,420.00 393.67,417.75 390.00,415.00 C386.33,412.25 381.83,408.80 378.00,406.00 C374.17,403.20 369.30,399.67 367.00,398.20 C364.70,396.73 364.74,393.57 364.20,397.20Z" fill="#f4ecea"/>
<path d="M371.50,421.00 C369.17,427.83 371.67,453.50 372.00,470.00 C372.33,486.50 372.75,507.50 373.50,520.00 C374.25,532.50 375.25,536.67 376.50,545.00 C377.75,553.33 378.58,561.67 381.00,570.00 C383.42,578.33 386.83,587.50 391.00,595.00 C395.17,602.50 399.50,609.58 406.00,615.00 C412.50,620.42 423.00,625.25 430.00,627.50 C437.00,629.75 442.67,629.25 448.00,628.50 C453.33,627.75 457.67,625.75 462.00,623.00 C466.33,620.25 470.67,616.50 474.00,612.00 C477.33,607.50 479.83,601.83 482.00,596.00 C484.17,590.17 485.50,583.83 487.00,577.00 C488.50,570.17 489.67,562.83 491.00,555.00 C492.33,547.17 493.83,539.17 495.00,530.00 C496.17,520.83 497.50,513.00 498.00,500.00 C498.50,487.00 500.50,459.83 498.00,452.00 C495.50,444.17 488.50,452.00 483.00,453.00 C477.50,454.00 472.17,457.67 465.00,458.00 C457.83,458.33 445.83,456.00 440.00,455.00 C434.17,454.00 433.33,453.17 430.00,452.00 C426.67,450.83 423.33,449.42 420.00,448.00 C416.67,446.58 413.33,445.08 410.00,443.50 C406.67,441.92 404.00,440.92 400.00,438.50 C396.00,436.08 390.75,431.92 386.00,429.00 C381.25,426.08 373.83,414.17 371.50,421.00Z" fill="url(#gInsert)"/>
<path d="M371.50,421.00 C369.17,427.83 371.67,453.50 372.00,470.00 C372.33,486.50 372.75,507.50 373.50,520.00 C374.25,532.50 375.25,536.67 376.50,545.00 C377.75,553.33 378.58,561.67 381.00,570.00 C383.42,578.33 386.83,587.50 391.00,595.00 C395.17,602.50 399.50,609.58 406.00,615.00 C412.50,620.42 423.00,625.25 430.00,627.50 C437.00,629.75 442.67,629.25 448.00,628.50 C453.33,627.75 457.67,625.75 462.00,623.00 C466.33,620.25 470.67,616.50 474.00,612.00 C477.33,607.50 479.83,601.83 482.00,596.00 C484.17,590.17 485.50,583.83 487.00,577.00 C488.50,570.17 489.67,562.83 491.00,555.00 C492.33,547.17 493.83,539.17 495.00,530.00 C496.17,520.83 497.50,513.00 498.00,500.00 C498.50,487.00 500.50,459.83 498.00,452.00 C495.50,444.17 488.50,452.00 483.00,453.00 C477.50,454.00 472.17,457.67 465.00,458.00 C457.83,458.33 445.83,456.00 440.00,455.00 C434.17,454.00 433.33,453.17 430.00,452.00 C426.67,450.83 423.33,449.42 420.00,448.00 C416.67,446.58 413.33,445.08 410.00,443.50 C406.67,441.92 404.00,440.92 400.00,438.50 C396.00,436.08 390.75,431.92 386.00,429.00 C381.25,426.08 373.83,414.17 371.50,421.00Z" fill="url(#gInsertV)"/>
<path d="M371.50,421.00 C369.17,427.83 371.67,453.50 372.00,470.00 C372.33,486.50 372.75,507.50 373.50,520.00 C374.25,532.50 375.25,536.67 376.50,545.00 C377.75,553.33 378.58,561.67 381.00,570.00 C383.42,578.33 386.83,587.50 391.00,595.00 C395.17,602.50 399.50,609.58 406.00,615.00 C412.50,620.42 423.00,625.25 430.00,627.50 C437.00,629.75 442.67,629.25 448.00,628.50 C453.33,627.75 457.67,625.75 462.00,623.00 C466.33,620.25 470.67,616.50 474.00,612.00 C477.33,607.50 479.83,601.83 482.00,596.00 C484.17,590.17 485.50,583.83 487.00,577.00 C488.50,570.17 489.67,562.83 491.00,555.00 C492.33,547.17 493.83,539.17 495.00,530.00 C496.17,520.83 497.50,513.00 498.00,500.00 C498.50,487.00 500.50,459.83 498.00,452.00 C495.50,444.17 488.50,452.00 483.00,453.00 C477.50,454.00 472.17,457.67 465.00,458.00 C457.83,458.33 445.83,456.00 440.00,455.00 C434.17,454.00 433.33,453.17 430.00,452.00 C426.67,450.83 423.33,449.42 420.00,448.00 C416.67,446.58 413.33,445.08 410.00,443.50 C406.67,441.92 404.00,440.92 400.00,438.50 C396.00,436.08 390.75,431.92 386.00,429.00 C381.25,426.08 373.83,414.17 371.50,421.00Z" fill="url(#gHi)"/>
<path d="M364.20,397.20 C364.37,395.23 364.70,396.73 367.00,398.20 C369.30,399.67 374.17,403.20 378.00,406.00 C381.83,408.80 386.33,412.25 390.00,415.00 C393.67,417.75 396.67,420.00 400.00,422.50 C403.33,425.00 406.67,427.50 410.00,430.00 C413.33,432.50 416.67,435.25 420.00,437.50 C423.33,439.75 426.67,441.83 430.00,443.50 C433.33,445.17 434.17,446.17 440.00,447.50 C445.83,448.83 457.83,451.75 465.00,451.50 C472.17,451.25 477.17,449.25 483.00,446.00 C488.83,442.75 496.83,433.00 500.00,432.00 C503.17,431.00 502.33,437.17 502.00,440.00 C501.67,442.83 501.17,446.83 498.00,449.00 C494.83,451.17 488.50,451.50 483.00,453.00 C477.50,454.50 472.17,457.67 465.00,458.00 C457.83,458.33 445.83,456.00 440.00,455.00 C434.17,454.00 433.33,453.17 430.00,452.00 C426.67,450.83 423.33,449.42 420.00,448.00 C416.67,446.58 413.33,445.08 410.00,443.50 C406.67,441.92 404.00,440.92 400.00,438.50 C396.00,436.08 390.67,431.92 386.00,429.00 C381.33,426.08 375.33,424.17 372.00,421.00 C368.67,417.83 367.30,413.97 366.00,410.00 C364.70,406.03 364.03,399.17 364.20,397.20Z" fill="#5a3f3a"/>
<path d="M372.00,416.00 C374.33,416.50 381.33,421.17 386.00,424.00 C390.67,426.83 396.00,430.58 400.00,433.00 C404.00,435.42 406.67,436.75 410.00,438.50 C413.33,440.25 416.67,442.00 420.00,443.50 C423.33,445.00 426.67,446.33 430.00,447.50 C433.33,448.67 434.17,449.42 440.00,450.50 C445.83,451.58 457.83,454.17 465.00,454.00 C472.17,453.83 477.33,451.67 483.00,449.50 C488.67,447.33 496.50,441.08 499.00,441.00 C501.50,440.92 500.67,447.00 498.00,449.00 C495.33,451.00 488.50,451.50 483.00,453.00 C477.50,454.50 472.17,457.67 465.00,458.00 C457.83,458.33 445.83,456.00 440.00,455.00 C434.17,454.00 433.33,453.17 430.00,452.00 C426.67,450.83 423.33,449.42 420.00,448.00 C416.67,446.58 413.33,445.08 410.00,443.50 C406.67,441.92 404.00,440.92 400.00,438.50 C396.00,436.08 390.67,431.92 386.00,429.00 C381.33,426.08 374.33,423.17 372.00,421.00 C369.67,418.83 369.67,415.50 372.00,416.00Z" fill="#866b66" opacity="0.8"/>
<g clip-path="url(#cRB)"><g clip-path="url(#cInterior)"><path d="M363.42,338.75 C363.15,337.22 362.91,335.67 362.71,334.11 C362.51,332.55 362.34,330.96 362.20,329.36 C362.06,327.76 361.96,326.15 361.89,324.51 C361.83,322.87 361.79,321.22 361.81,319.55 C361.82,317.88 361.87,316.18 361.96,314.48 C362.06,312.77 362.20,311.05 362.38,309.31 C362.57,307.57 362.80,305.81 363.08,304.04 C363.36,302.27 363.69,300.49 364.08,298.69 C364.46,296.90 364.90,295.09 365.40,293.27 C365.89,291.46 366.44,289.63 367.06,287.80 C367.67,285.97 368.34,284.13 369.08,282.29 C369.82,280.46 370.62,278.62 371.50,276.79 C372.38,274.97 373.32,273.14 374.34,271.34 C375.36,269.54 376.45,267.74 377.62,265.98 C378.79,264.23 380.04,262.48 381.37,260.80 C382.70,259.11 384.11,257.45 385.60,255.87 C387.09,254.28 388.67,252.73 390.32,251.28 C391.97,249.83 393.71,248.43 395.51,247.14 C397.31,245.86 399.20,244.65 401.14,243.57 C403.09,242.48 405.11,241.50 407.17,240.65 C409.23,239.80 411.36,239.07 413.51,238.48 C415.66,237.90 417.87,237.44 420.08,237.14 C422.29,236.84 424.53,236.68 426.76,236.68 C428.99,236.67 431.24,236.82 433.45,237.11 C435.66,237.40 437.87,237.85 440.03,238.42 C442.18,239.00 444.32,239.73 446.38,240.57 C448.44,241.41 450.46,242.40 452.40,243.47 C454.34,244.55 456.23,245.76 458.03,247.03 C459.83,248.31 461.55,249.69 463.20,251.12 C464.84,252.55 466.40,254.08 467.88,255.62 C469.37,257.17 470.76,258.78 472.09,260.40 C473.41,262.02 474.66,263.68 475.83,265.34 C477.01,266.99 478.11,268.67 479.16,270.34 C480.21,272.00 481.19,273.67 482.12,275.32 C483.05,276.97 483.92,278.62 484.76,280.24 C485.60,281.86 486.39,283.47 487.14,285.06 C487.90,286.64 488.61,288.21 489.30,289.77 C489.99,291.32 490.64,292.86 491.27,294.38 C491.89,295.91 492.49,297.41 493.06,298.92 C493.63,300.42 494.17,301.91 494.68,303.39 C495.20,304.88 495.68,306.36 496.14,307.83 C496.59,309.31 497.02,310.78 497.41,312.25 C497.81,313.72 498.18,315.19 498.51,316.66 C498.85,318.13 499.15,319.60 499.43,321.07 C499.71,322.53 499.96,324.00 500.19,325.47 C500.42,326.94 500.63,328.41 500.82,329.88 C501.01,331.35 501.18,332.82 501.35,334.29 C501.52,335.77 501.67,337.25 501.83,338.75 C501.99,340.24 502.14,341.74 502.30,343.26 C502.46,344.78 502.63,346.31 502.80,347.88 C502.98,349.44 503.16,351.02 503.36,352.65 C503.55,354.28 503.76,355.93 503.97,357.64 C504.17,359.35 504.39,361.09 504.60,362.90 C504.80,364.70 505.02,366.55 505.20,368.46 C505.38,370.37 505.56,372.34 505.68,374.36 C505.80,376.38 505.90,378.46 505.92,380.59 C505.95,382.71 505.93,384.89 505.81,387.09 C505.69,389.30 505.51,391.55 505.21,393.81 C504.90,396.06 504.52,398.35 503.99,400.60 C503.46,402.86 502.83,405.13 502.05,407.34 C501.27,409.54 500.36,411.74 499.31,413.84 C498.25,415.93 497.06,417.99 495.73,419.91 C494.41,421.84 492.93,423.69 491.34,425.38 C489.75,427.08 488.01,428.66 486.18,430.07 C484.35,431.49 482.39,432.76 480.35,433.85 C478.32,434.94 476.17,435.87 473.99,436.61 C471.80,437.35 469.53,437.91 467.24,438.29 C464.96,438.67 462.61,438.87 460.29,438.90 C457.96,438.93 455.61,438.78 453.29,438.48 C450.98,438.18 448.66,437.71 446.40,437.12 C444.15,436.53 441.92,435.77 439.76,434.94 C437.60,434.10 435.49,433.12 433.45,432.09 C431.42,431.05 429.45,429.90 427.55,428.72 C425.66,427.54 423.84,426.28 422.10,425.01 C420.35,423.73 418.68,422.40 417.08,421.08 C415.47,419.75 413.94,418.39 412.47,417.05 C411.00,415.71 409.59,414.36 408.24,413.03 C406.88,411.70 405.58,410.38 404.32,409.08 C403.06,407.77 401.85,406.49 400.67,405.22 C399.49,403.95 398.35,402.70 397.24,401.47 C396.13,400.23 395.05,399.02 393.99,397.81 C392.93,396.60 391.90,395.41 390.88,394.22 C389.87,393.03 388.88,391.85 387.92,390.67 C386.95,389.49 386.00,388.31 385.08,387.12 C384.16,385.93 383.25,384.74 382.38,383.54 C381.50,382.33 380.65,381.12 379.82,379.90 C378.99,378.67 378.19,377.44 377.42,376.19 C376.64,374.94 375.90,373.67 375.18,372.39 C374.46,371.11 373.77,369.81 373.11,368.50 C372.45,367.19 371.82,365.86 371.22,364.52 C370.62,363.18 370.04,361.83 369.50,360.45 C368.95,359.08 368.44,357.70 367.95,356.30 C367.46,354.90 367.00,353.48 366.57,352.05 C366.13,350.62 365.73,349.17 365.35,347.71 C364.97,346.25 364.62,344.77 364.30,343.28 C363.98,341.78 363.68,340.27 363.42,338.75Z" fill="none" stroke="#45302b" stroke-width="8"/></g></g>
<path d="M363.42,338.75 C363.15,337.22 362.91,335.67 362.71,334.11 C362.51,332.55 362.34,330.96 362.20,329.36 C362.06,327.76 361.96,326.15 361.89,324.51 C361.83,322.87 361.79,321.22 361.81,319.55 C361.82,317.88 361.87,316.18 361.96,314.48 C362.06,312.77 362.20,311.05 362.38,309.31 C362.57,307.57 362.80,305.81 363.08,304.04 C363.36,302.27 363.69,300.49 364.08,298.69 C364.46,296.90 364.90,295.09 365.40,293.27 C365.89,291.46 366.44,289.63 367.06,287.80 C367.67,285.97 368.34,284.13 369.08,282.29 C369.82,280.46 370.62,278.62 371.50,276.79 C372.38,274.97 373.32,273.14 374.34,271.34 C375.36,269.54 376.45,267.74 377.62,265.98 C378.79,264.23 380.04,262.48 381.37,260.80 C382.70,259.11 384.11,257.45 385.60,255.87 C387.09,254.28 388.67,252.73 390.32,251.28 C391.97,249.83 393.71,248.43 395.51,247.14 C397.31,245.86 399.20,244.65 401.14,243.57 C403.09,242.48 405.11,241.50 407.17,240.65 C409.23,239.80 411.36,239.07 413.51,238.48 C415.66,237.90 417.87,237.44 420.08,237.14 C422.29,236.84 424.53,236.68 426.76,236.68 C428.99,236.67 431.24,236.82 433.45,237.11 C435.66,237.40 437.87,237.85 440.03,238.42 C442.18,239.00 444.32,239.73 446.38,240.57 C448.44,241.41 450.46,242.40 452.40,243.47 C454.34,244.55 456.23,245.76 458.03,247.03 C459.83,248.31 461.55,249.69 463.20,251.12 C464.84,252.55 466.40,254.08 467.88,255.62 C469.37,257.17 470.76,258.78 472.09,260.40 C473.41,262.02 474.66,263.68 475.83,265.34 C477.01,266.99 478.11,268.67 479.16,270.34 C480.21,272.00 481.19,273.67 482.12,275.32 C483.05,276.97 483.92,278.62 484.76,280.24 C485.60,281.86 486.39,283.47 487.14,285.06 C487.90,286.64 488.61,288.21 489.30,289.77 C489.99,291.32 490.64,292.86 491.27,294.38 C491.89,295.91 492.49,297.41 493.06,298.92 C493.63,300.42 494.17,301.91 494.68,303.39 C495.20,304.88 495.68,306.36 496.14,307.83 C496.59,309.31 497.02,310.78 497.41,312.25 C497.81,313.72 498.18,315.19 498.51,316.66 C498.85,318.13 499.15,319.60 499.43,321.07 C499.71,322.53 499.96,324.00 500.19,325.47 C500.42,326.94 500.63,328.41 500.82,329.88 C501.01,331.35 501.18,332.82 501.35,334.29 C501.52,335.77 501.67,337.25 501.83,338.75 C501.99,340.24 502.14,341.74 502.30,343.26 C502.46,344.78 502.63,346.31 502.80,347.88 C502.98,349.44 503.16,351.02 503.36,352.65 C503.55,354.28 503.76,355.93 503.97,357.64 C504.17,359.35 504.39,361.09 504.60,362.90 C504.80,364.70 505.02,366.55 505.20,368.46 C505.38,370.37 505.56,372.34 505.68,374.36 C505.80,376.38 505.90,378.46 505.92,380.59 C505.95,382.71 505.93,384.89 505.81,387.09 C505.69,389.30 505.51,391.55 505.21,393.81 C504.90,396.06 504.52,398.35 503.99,400.60 C503.46,402.86 502.83,405.13 502.05,407.34 C501.27,409.54 500.36,411.74 499.31,413.84 C498.25,415.93 497.06,417.99 495.73,419.91 C494.41,421.84 492.93,423.69 491.34,425.38 C489.75,427.08 488.01,428.66 486.18,430.07 C484.35,431.49 482.39,432.76 480.35,433.85 C478.32,434.94 476.17,435.87 473.99,436.61 C471.80,437.35 469.53,437.91 467.24,438.29 C464.96,438.67 462.61,438.87 460.29,438.90 C457.96,438.93 455.61,438.78 453.29,438.48 C450.98,438.18 448.66,437.71 446.40,437.12 C444.15,436.53 441.92,435.77 439.76,434.94 C437.60,434.10 435.49,433.12 433.45,432.09 C431.42,431.05 429.45,429.90 427.55,428.72 C425.66,427.54 423.84,426.28 422.10,425.01 C420.35,423.73 418.68,422.40 417.08,421.08 C415.47,419.75 413.94,418.39 412.47,417.05 C411.00,415.71 409.59,414.36 408.24,413.03 C406.88,411.70 405.58,410.38 404.32,409.08 C403.06,407.77 401.85,406.49 400.67,405.22 C399.49,403.95 398.35,402.70 397.24,401.47 C396.13,400.23 395.05,399.02 393.99,397.81 C392.93,396.60 391.90,395.41 390.88,394.22 C389.87,393.03 388.88,391.85 387.92,390.67 C386.95,389.49 386.00,388.31 385.08,387.12 C384.16,385.93 383.25,384.74 382.38,383.54 C381.50,382.33 380.65,381.12 379.82,379.90 C378.99,378.67 378.19,377.44 377.42,376.19 C376.64,374.94 375.90,373.67 375.18,372.39 C374.46,371.11 373.77,369.81 373.11,368.50 C372.45,367.19 371.82,365.86 371.22,364.52 C370.62,363.18 370.04,361.83 369.50,360.45 C368.95,359.08 368.44,357.70 367.95,356.30 C367.46,354.90 367.00,353.48 366.57,352.05 C366.13,350.62 365.73,349.17 365.35,347.71 C364.97,346.25 364.62,344.77 364.30,343.28 C363.98,341.78 363.68,340.27 363.42,338.75Z" fill="none" stroke="#ddd1ce" stroke-width="2.4"/>
<path d="M363.42,338.75 C363.15,337.22 362.91,335.67 362.71,334.11 C362.51,332.55 362.34,330.96 362.20,329.36 C362.06,327.76 361.96,326.15 361.89,324.51 C361.83,322.87 361.79,321.22 361.81,319.55 C361.82,317.88 361.87,316.18 361.96,314.48 C362.06,312.77 362.20,311.05 362.38,309.31 C362.57,307.57 362.80,305.81 363.08,304.04 C363.36,302.27 363.69,300.49 364.08,298.69 C364.46,296.90 364.90,295.09 365.40,293.27 C365.89,291.46 366.44,289.63 367.06,287.80 C367.67,285.97 368.34,284.13 369.08,282.29 C369.82,280.46 370.62,278.62 371.50,276.79 C372.38,274.97 373.32,273.14 374.34,271.34 C375.36,269.54 376.45,267.74 377.62,265.98 C378.79,264.23 380.04,262.48 381.37,260.80 C382.70,259.11 384.11,257.45 385.60,255.87 C387.09,254.28 388.67,252.73 390.32,251.28 C391.97,249.83 393.71,248.43 395.51,247.14 C397.31,245.86 399.20,244.65 401.14,243.57 C403.09,242.48 405.11,241.50 407.17,240.65 C409.23,239.80 411.36,239.07 413.51,238.48 C415.66,237.90 417.87,237.44 420.08,237.14 C422.29,236.84 424.53,236.68 426.76,236.68 C428.99,236.67 431.24,236.82 433.45,237.11 C435.66,237.40 437.87,237.85 440.03,238.42 C442.18,239.00 444.32,239.73 446.38,240.57 C448.44,241.41 450.46,242.40 452.40,243.47 C454.34,244.55 456.23,245.76 458.03,247.03 C459.83,248.31 461.55,249.69 463.20,251.12 C464.84,252.55 466.40,254.08 467.88,255.62 C469.37,257.17 470.76,258.78 472.09,260.40 C473.41,262.02 474.66,263.68 475.83,265.34 C477.01,266.99 478.11,268.67 479.16,270.34 C480.21,272.00 481.19,273.67 482.12,275.32 C483.05,276.97 483.92,278.62 484.76,280.24 C485.60,281.86 486.39,283.47 487.14,285.06 C487.90,286.64 488.61,288.21 489.30,289.77 C489.99,291.32 490.64,292.86 491.27,294.38 C491.89,295.91 492.49,297.41 493.06,298.92 C493.63,300.42 494.17,301.91 494.68,303.39 C495.20,304.88 495.68,306.36 496.14,307.83 C496.59,309.31 497.02,310.78 497.41,312.25 C497.81,313.72 498.18,315.19 498.51,316.66 C498.85,318.13 499.15,319.60 499.43,321.07 C499.71,322.53 499.96,324.00 500.19,325.47 C500.42,326.94 500.63,328.41 500.82,329.88 C501.01,331.35 501.18,332.82 501.35,334.29 C501.52,335.77 501.67,337.25 501.83,338.75 C501.99,340.24 502.14,341.74 502.30,343.26 C502.46,344.78 502.63,346.31 502.80,347.88 C502.98,349.44 503.16,351.02 503.36,352.65 C503.55,354.28 503.76,355.93 503.97,357.64 C504.17,359.35 504.39,361.09 504.60,362.90 C504.80,364.70 505.02,366.55 505.20,368.46 C505.38,370.37 505.56,372.34 505.68,374.36 C505.80,376.38 505.90,378.46 505.92,380.59 C505.95,382.71 505.93,384.89 505.81,387.09 C505.69,389.30 505.51,391.55 505.21,393.81 C504.90,396.06 504.52,398.35 503.99,400.60 C503.46,402.86 502.83,405.13 502.05,407.34 C501.27,409.54 500.36,411.74 499.31,413.84 C498.25,415.93 497.06,417.99 495.73,419.91 C494.41,421.84 492.93,423.69 491.34,425.38 C489.75,427.08 488.01,428.66 486.18,430.07 C484.35,431.49 482.39,432.76 480.35,433.85 C478.32,434.94 476.17,435.87 473.99,436.61 C471.80,437.35 469.53,437.91 467.24,438.29 C464.96,438.67 462.61,438.87 460.29,438.90 C457.96,438.93 455.61,438.78 453.29,438.48 C450.98,438.18 448.66,437.71 446.40,437.12 C444.15,436.53 441.92,435.77 439.76,434.94 C437.60,434.10 435.49,433.12 433.45,432.09 C431.42,431.05 429.45,429.90 427.55,428.72 C425.66,427.54 423.84,426.28 422.10,425.01 C420.35,423.73 418.68,422.40 417.08,421.08 C415.47,419.75 413.94,418.39 412.47,417.05 C411.00,415.71 409.59,414.36 408.24,413.03 C406.88,411.70 405.58,410.38 404.32,409.08 C403.06,407.77 401.85,406.49 400.67,405.22 C399.49,403.95 398.35,402.70 397.24,401.47 C396.13,400.23 395.05,399.02 393.99,397.81 C392.93,396.60 391.90,395.41 390.88,394.22 C389.87,393.03 388.88,391.85 387.92,390.67 C386.95,389.49 386.00,388.31 385.08,387.12 C384.16,385.93 383.25,384.74 382.38,383.54 C381.50,382.33 380.65,381.12 379.82,379.90 C378.99,378.67 378.19,377.44 377.42,376.19 C376.64,374.94 375.90,373.67 375.18,372.39 C374.46,371.11 373.77,369.81 373.11,368.50 C372.45,367.19 371.82,365.86 371.22,364.52 C370.62,363.18 370.04,361.83 369.50,360.45 C368.95,359.08 368.44,357.70 367.95,356.30 C367.46,354.90 367.00,353.48 366.57,352.05 C366.13,350.62 365.73,349.17 365.35,347.71 C364.97,346.25 364.62,344.77 364.30,343.28 C363.98,341.78 363.68,340.27 363.42,338.75Z" fill="url(#gFace)" stroke="#1d252c" stroke-width="1.1"/>
<g clip-path="url(#cFace)"><rect x="355" y="230" width="70" height="220" fill="url(#gFaceL)"/></g>
<g stroke-linecap="round">
 <line x1="451" y1="295.5" x2="455.5" y2="325.5" stroke="#222b32" stroke-width="3.4"/>
 <line x1="443" y1="309" x2="465" y2="312.5" stroke="#222b32" stroke-width="4.2"/>
 <line x1="449.5" y1="370.6" x2="470.5" y2="372.4" stroke="#222b32" stroke-width="5.4"/>
 <line x1="444.2" y1="308.9" x2="451" y2="309.9" stroke="#46525a" stroke-width="2.4"/>
 <line x1="451" y1="370.3" x2="469.5" y2="371.9" stroke="#49555d" stroke-width="3.0"/>
</g>
<g stroke="#1d2058" stroke-width="2" fill="none" stroke-linecap="round">
 <line x1="239.5" y1="305.5" x2="292" y2="353"/>
 <line x1="453" y1="308.8" x2="569" y2="305.6"/>
 <line x1="459.4" y1="370.6" x2="569" y2="305.6"/>
 <line x1="165" y1="624.5" x2="336" y2="602"/>
 <line x1="443" y1="600" x2="569" y2="635"/>
</g>
</svg>
<svg width="800" height="800" viewBox="0 0 800 800" style="position:absolute;left:0;top:0">
<text x="193" y="88.2" textLength="407.5" lengthAdjust="spacingAndGlyphs" font-size="41.5" font-weight="bold" fill="#1c2262" stroke="#1c2262" stroke-width="0.9">PRODUCT FEATURES</text>
<text x="47.8" y="277.5" textLength="198" lengthAdjust="spacingAndGlyphs" font-size="28.5" font-weight="normal" fill="#16173f" stroke="#16173f" stroke-width="0.8">grooved details</text>
<text x="47.8" y="311.5" textLength="172" lengthAdjust="spacingAndGlyphs" font-size="28.5" font-weight="normal" fill="#16173f" stroke="#16173f" stroke-width="0.8">for additional</text>
<text x="47.8" y="345.5" textLength="135" lengthAdjust="spacingAndGlyphs" font-size="28.5" font-weight="normal" fill="#16173f" stroke="#16173f" stroke-width="0.8">stimulation</text>
<text x="589.2" y="277.5" textLength="148" lengthAdjust="spacingAndGlyphs" font-size="28.5" font-weight="normal" fill="#16173f" stroke="#16173f" stroke-width="0.8">+/- buttons</text>
<text x="589.2" y="311.5" textLength="103" lengthAdjust="spacingAndGlyphs" font-size="28.5" font-weight="normal" fill="#16173f" stroke="#16173f" stroke-width="0.8">for easy</text>
<text x="589.2" y="345.5" textLength="87" lengthAdjust="spacingAndGlyphs" font-size="28.5" font-weight="normal" fill="#16173f" stroke="#16173f" stroke-width="0.8">control</text>
<text x="48.5" y="596.5" textLength="111" lengthAdjust="spacingAndGlyphs" font-size="28.5" font-weight="normal" fill="#16173f" stroke="#16173f" stroke-width="0.8">ultra soft</text>
<text x="48.5" y="631.5" textLength="93" lengthAdjust="spacingAndGlyphs" font-size="28.5" font-weight="normal" fill="#16173f" stroke="#16173f" stroke-width="0.8">silicone</text>
<text x="48.5" y="665.5" textLength="91" lengthAdjust="spacingAndGlyphs" font-size="28.5" font-weight="normal" fill="#16173f" stroke="#16173f" stroke-width="0.8">surface</text>
<text x="589.6" y="595.5" textLength="162" lengthAdjust="spacingAndGlyphs" font-size="28.5" font-weight="normal" fill="#16173f" stroke="#16173f" stroke-width="0.8">power motor</text>
<text x="589.6" y="630.5" textLength="89" lengthAdjust="spacingAndGlyphs" font-size="28.5" font-weight="normal" fill="#16173f" stroke="#16173f" stroke-width="0.8">with 15</text>
<text x="589.6" y="666" textLength="109" lengthAdjust="spacingAndGlyphs" font-size="28.5" font-weight="normal" fill="#16173f" stroke="#16173f" stroke-width="0.8">vibration</text>
<text x="589.6" y="701" textLength="158" lengthAdjust="spacingAndGlyphs" font-size="28.5" font-weight="normal" fill="#16173f" stroke="#16173f" stroke-width="0.8">programmes</text>
</svg>
</body></html>
